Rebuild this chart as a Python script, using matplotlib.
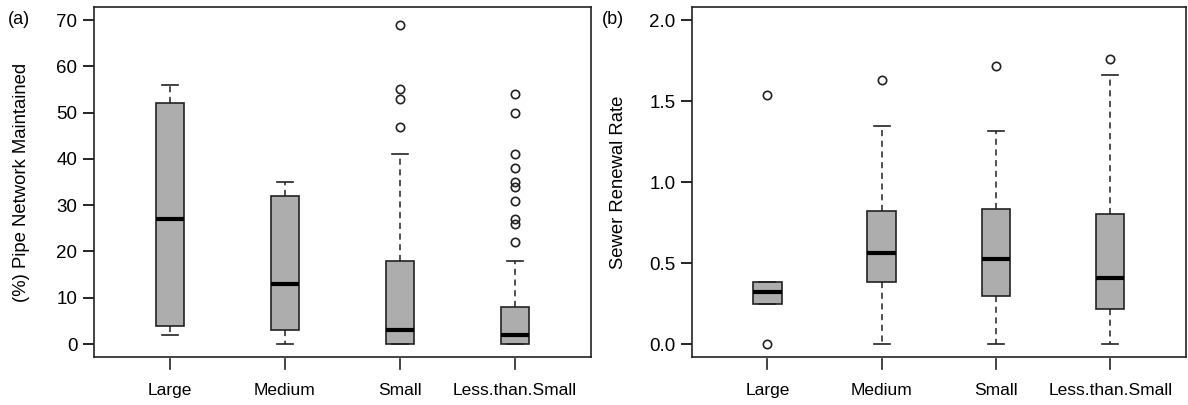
import matplotlib
matplotlib.use("Agg")
import matplotlib.pyplot as plt

plt.rcParams['font.family'] = ['Liberation Sans', 'DejaVu Sans']

categories = ["Large", "Medium", "Small", "Less.than.Small"]

# panel (a): % pipe network maintained
a_whislo = [2, 0, 0, 0]
a_q1 = [4, 3, 0, 0]
a_med = [27, 13, 3, 2]
a_q3 = [52, 32, 18, 8]
a_whishi = [56, 35, 41, 18]
a_fliers = [[], [], [69, 55, 53, 47],
            [54, 50, 41, 38, 35, 34, 31, 27, 26, 22]]

# panel (b): sewer renewal rate
b_whislo = [0.25, 0.0, 0.0, 0.0]
b_q1 = [0.25, 0.38, 0.295, 0.215]
b_med = [0.322, 0.565, 0.523, 0.41]
b_q3 = [0.386, 0.82, 0.833, 0.80]
b_whishi = [0.386, 1.345, 1.316, 1.66]
b_fliers = [[1.54, 0.0], [1.63], [1.715], [1.76]]

a_ticks = [0, 10, 20, 30, 40, 50, 60, 70]
b_ticks = [0.0, 0.5, 1.0, 1.5, 2.0]


def make_stats(lo, q1, med, q3, hi, fl):
    out = []
    for i in range(len(categories)):
        out.append(dict(whislo=lo[i], q1=q1[i], med=med[i], q3=q3[i],
                        whishi=hi[i], fliers=fl[i], label=categories[i]))
    return out


def draw(ax, stats, ymin, ymax, ticks, ticklabels, ylabel, labx):
    ax.bxp(stats, positions=[1, 2, 3, 4], widths=0.25, patch_artist=True,
           showfliers=True,
           boxprops=dict(facecolor='#adadad', edgecolor='#222222', linewidth=1.2),
           medianprops=dict(color='black', linewidth=3, solid_capstyle='butt'),
           whiskerprops=dict(color='#222222', linewidth=1.1, linestyle=(0, (4, 3))),
           capprops=dict(color='#222222', linewidth=1.2),
           capwidths=0.14,
           flierprops=dict(marker='o', markerfacecolor='none',
                           markeredgecolor='#222222', markersize=6,
                           markeredgewidth=1.2))
    rng = ymax - ymin
    ax.set_ylim(ymin - 0.04 * rng, ymax + 0.04 * rng)
    ax.set_xlim(0.34, 4.66)
    ax.set_yticks(ticks)
    ax.set_yticklabels(ticklabels)
    ax.set_xticks([1, 2, 3, 4])
    ax.set_xticklabels(categories)
    ax.tick_params(axis='y', direction='out', length=8, width=1.2,
                   labelsize=13.5, pad=4)
    ax.tick_params(axis='x', direction='out', length=0, labelsize=12.5, pad=19)
    # R-style x ticks detached below the frame
    for x in [1, 2, 3, 4]:
        ax.plot([x, x], [-0.005, -0.035], transform=ax.get_xaxis_transform(),
                color='#222222', lw=1.2, clip_on=False)
    for s in ax.spines.values():
        s.set_linewidth(1.2)
        s.set_color('#222222')
    ax.set_ylabel(ylabel, fontsize=13.3)
    ax.yaxis.set_label_coords(labx, 0.5)


fig = plt.figure(figsize=(11.88, 4.05), dpi=100)
ax1 = fig.add_axes([0.0791, 0.1185, 0.4184, 0.864])
ax2 = fig.add_axes([0.5825, 0.1185, 0.4155, 0.864])

draw(ax1, make_stats(a_whislo, a_q1, a_med, a_q3, a_whishi, a_fliers),
     0, 70, a_ticks, [str(t) for t in a_ticks], "(%) Pipe Network Maintained",
     -0.129)
draw(ax2, make_stats(b_whislo, b_q1, b_med, b_q3, b_whishi, b_fliers),
     0, 2.0, b_ticks, ["%.1f" % t for t in b_ticks], "Sewer Renewal Rate",
     -0.132)

fig.text(8 / 1188, 1 - 19 / 405, "(a)", fontsize=13, va='center', ha='left')
fig.text(602 / 1188, 1 - 19 / 405, "(b)", fontsize=13, va='center', ha='left')

fig.savefig("out.png", dpi=100)
